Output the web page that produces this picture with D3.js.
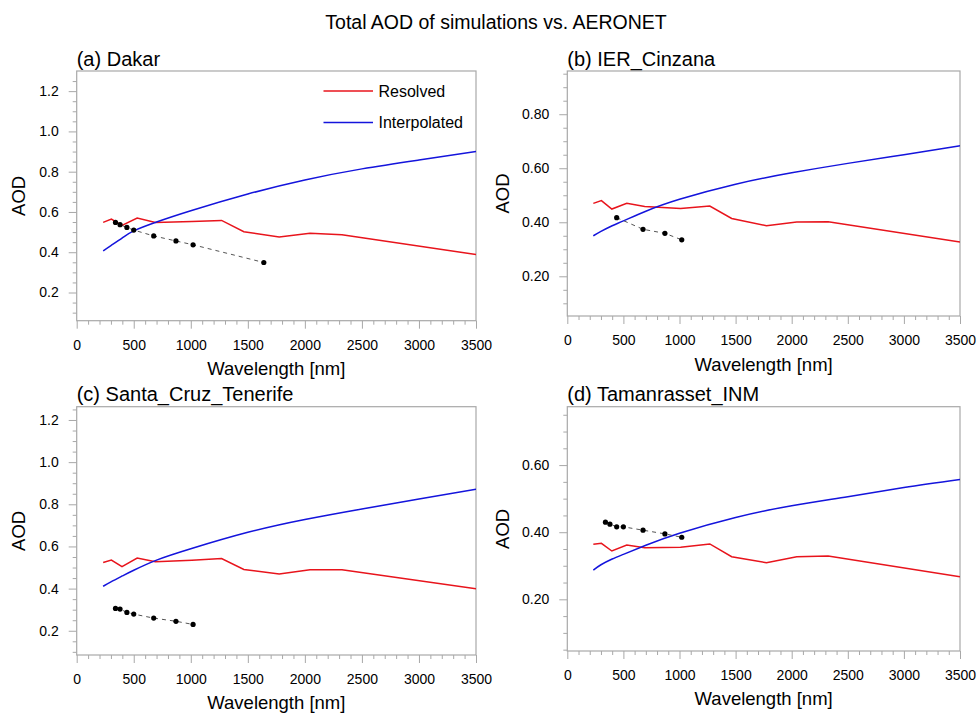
<!DOCTYPE html>
<html>
<head>
<meta charset="utf-8">
<script src="https://cdn.jsdelivr.net/npm/d3@7"></script>
<style>
  body { margin: 0; background: #fff; }
  svg { font-family: "Liberation Sans", Arial, Helvetica, sans-serif; }
  .tick text { fill: #000; }
  .tick line { stroke: #a8a8a8; }
</style>
</head>
<body>
<svg width="977" height="715"></svg>
<script>
"use strict";

// station names
const siteNames = ["(a) Dakar", "(b) IER_Cinzana", "(c) Santa_Cruz_Tenerife", "(d) Tamanrasset_INM"];

// model bands (nm) for the resolved run
const resolvedWl = [232, 304, 397, 530, 690, 1010, 1270, 1465, 1775, 2045, 2325, 3500];
const resolvedDakar    = [0.548, 0.565, 0.533, 0.570, 0.548, 0.553, 0.558, 0.502, 0.476, 0.494, 0.487, 0.389];
const resolvedCinzana  = [0.470, 0.480, 0.449, 0.470, 0.458, 0.451, 0.460, 0.414, 0.387, 0.401, 0.402, 0.327];
const resolvedTenerife = [0.524, 0.535, 0.504, 0.545, 0.527, 0.535, 0.543, 0.491, 0.469, 0.490, 0.489, 0.399];
const resolvedTaman    = [0.364, 0.367, 0.344, 0.362, 0.354, 0.355, 0.365, 0.327, 0.309, 0.327, 0.329, 0.267];

// interpolated run
const interpWl = [232, 300, 400, 500, 700, 1000, 1500, 2000, 2500, 3000, 3500];
const interpDakar    = [0.407, 0.433, 0.471, 0.506, 0.550, 0.606, 0.689, 0.759, 0.814, 0.858, 0.900];
const interpCinzana  = [0.350, 0.366, 0.387, 0.405, 0.441, 0.485, 0.541, 0.583, 0.618, 0.650, 0.683];
const interpTenerife = [0.411, 0.432, 0.460, 0.487, 0.535, 0.589, 0.667, 0.728, 0.778, 0.825, 0.871];
const interpTaman    = [0.287, 0.303, 0.320, 0.334, 0.361, 0.397, 0.444, 0.479, 0.506, 0.533, 0.557];

// AERONET observations
const aeronetWl = [340, 380, 440, 500, 675, 870, 1020, 1640];
const aeronetDakar    = [0.548, 0.537, 0.523, 0.510, 0.481, 0.456, 0.437, 0.349];
const aeronetCinzana  = [null, null, 0.417, null, 0.374, 0.359, 0.335, null];
const aeronetTenerife = [0.306, 0.303, 0.287, 0.279, 0.260, 0.245, 0.230, null];
const aeronetTaman    = [0.430, 0.424, 0.416, 0.416, 0.406, 0.395, 0.385, null];

// y axis ranges and labelled ticks
const yRangeDakar    = [0.06, 1.3];
const yRangeCinzana  = [0.053, 0.96];
const yRangeTenerife = [0.085, 1.263];
const yRangeTaman    = [0.046, 0.774];
const yTicksDakar    = [0.2, 0.4, 0.6, 0.8, 1.0, 1.2];
const yTicksCinzana  = [0.2, 0.4, 0.6, 0.8];
const yTicksTenerife = [0.2, 0.4, 0.6, 0.8, 1.0, 1.2];
const yTicksTaman    = [0.2, 0.4, 0.6];
const xTicks = [0, 500, 1000, 1500, 2000, 2500, 3000, 3500];

const legendLabels = ["Resolved", "Interpolated"];

const red = "#e8141c";
const blue = "#1414dc";
const frameColor = "#a8a8a8";

const svg = d3.select("svg");

svg.append("text")
    .attr("x", 496)
    .attr("y", 29)
    .attr("text-anchor", "middle")
    .style("font-size", "19.5px")
    .text("Total AOD of simulations vs. AERONET");

const panels = [
    { title: siteNames[0], res: resolvedDakar, interp: interpDakar, obs: aeronetDakar,
      yDom: yRangeDakar, yTicks: yTicksDakar, fmt: ".1f",
      left: 76.7, right: 476, top: 71, bottom: 320.7, ylab: 58.4, legend: true },
    { title: siteNames[1], res: resolvedCinzana, interp: interpCinzana, obs: aeronetCinzana,
      yDom: yRangeCinzana, yTicks: yTicksCinzana, fmt: ".2f",
      left: 567.3, right: 960, top: 71, bottom: 316, ylab: 64.6 },
    { title: siteNames[2], res: resolvedTenerife, interp: interpTenerife, obs: aeronetTenerife,
      yDom: yRangeTenerife, yTicks: yTicksTenerife, fmt: ".1f",
      left: 76.7, right: 476, top: 406.7, bottom: 655, ylab: 58.4 },
    { title: siteNames[3], res: resolvedTaman, interp: interpTaman, obs: aeronetTaman,
      yDom: yRangeTaman, yTicks: yTicksTaman, fmt: ".2f",
      left: 567.3, right: 960, top: 406.7, bottom: 651, ylab: 64.6 }
];

panels.forEach(function (p) {
    const w = p.right - p.left;
    const h = p.bottom - p.top;
    const g = svg.append("g").attr("transform", `translate(${p.left}, ${p.top})`);

    const x = d3.scaleLinear().domain([0, 3500]).range([0, w]);
    const y = d3.scaleLinear().domain(p.yDom).range([h, 0]);

    // minor ticks
    const xMinor = d3.range(0, 3501, 100).filter(v => v % 500 !== 0);
    const yMinor = d3.range(0.05, p.yDom[1], 0.05)
        .filter(v => v >= p.yDom[0] && Math.abs(v * 5 - Math.round(v * 5)) > 1e-6);

    g.append("g")
        .attr("transform", `translate(0, ${h})`)
        .call(d3.axisBottom(x).tickValues(xMinor).tickSize(4).tickFormat(""))
        .call(a => a.select(".domain").remove());
    g.append("g")
        .call(d3.axisLeft(y).tickValues(yMinor).tickSize(4).tickFormat(""))
        .call(a => a.select(".domain").remove());

    g.append("g")
        .attr("transform", `translate(0, ${h})`)
        .call(d3.axisBottom(x).tickValues(xTicks).tickSize(8).tickPadding(11).tickFormat(d3.format("d")))
        .call(a => a.select(".domain").remove())
        .selectAll("text").style("font-size", "14px");
    g.append("g")
        .call(d3.axisLeft(y).tickValues(p.yTicks).tickSize(8).tickPadding(10).tickFormat(d3.format(p.fmt)))
        .call(a => a.select(".domain").remove())
        .selectAll("text").style("font-size", "14px");

    g.selectAll(".tick line").attr("stroke", frameColor);

    // frame
    g.append("rect")
        .attr("width", w)
        .attr("height", h)
        .attr("fill", "none")
        .attr("stroke", frameColor)
        .attr("stroke-width", 1.2);

    const clip = "clip" + p.title.charAt(1);
    g.append("clipPath").attr("id", clip)
        .append("rect").attr("width", w).attr("height", h);
    const plot = g.append("g").attr("clip-path", `url(#${clip})`);

    const lineRes = d3.line()
        .x((d, i) => x(resolvedWl[i]))
        .y(d => y(d));
    plot.append("path")
        .datum(p.res)
        .attr("d", lineRes)
        .attr("fill", "none")
        .attr("stroke", red)
        .attr("stroke-width", 1.5);

    const lineInt = d3.line()
        .x((d, i) => x(interpWl[i]))
        .y(d => y(d))
        .curve(d3.curveNatural);
    plot.append("path")
        .datum(p.interp)
        .attr("d", lineInt)
        .attr("fill", "none")
        .attr("stroke", blue)
        .attr("stroke-width", 1.5);

    const obs = aeronetWl.map((wl, i) => ({ wl: wl, v: p.obs[i] })).filter(d => d.v !== null);
    plot.append("path")
        .datum(obs)
        .attr("d", d3.line().x(d => x(d.wl)).y(d => y(d.v)))
        .attr("fill", "none")
        .attr("stroke", "#555")
        .attr("stroke-width", 1)
        .attr("stroke-dasharray", "4,4");
    plot.selectAll(".obs")
        .data(obs)
        .enter()
        .append("circle")
        .attr("cx", d => x(d.wl))
        .attr("cy", d => y(d.v))
        .attr("r", 2.6)
        .attr("fill", "#000");

    // labels
    g.append("text")
        .attr("x", 0)
        .attr("y", -5.5)
        .style("font-size", "20px")
        .text(p.title);

    g.append("text")
        .attr("x", w / 2)
        .attr("y", h + 54.5)
        .attr("text-anchor", "middle")
        .style("font-size", "18.5px")
        .text("Wavelength [nm]");

    g.append("text")
        .attr("transform", `translate(${-p.ylab}, ${h / 2}) rotate(-90)`)
        .attr("text-anchor", "middle")
        .attr("dominant-baseline", "central")
        .style("font-size", "18.5px")
        .text("AOD");

    if (p.legend) {
        const lg = svg.append("g");
        [red, blue].forEach(function (c, i) {
            const yy = 91 + i * 31.5;
            lg.append("line")
                .attr("x1", 323.5).attr("x2", 373)
                .attr("y1", yy).attr("y2", yy)
                .attr("stroke", c).attr("stroke-width", 1.5);
            lg.append("text")
                .attr("x", 378.5)
                .attr("y", yy)
                .attr("dominant-baseline", "central")
                .style("font-size", "16px")
                .text(legendLabels[i]);
        });
    }
});
</script>
</body>
</html>
